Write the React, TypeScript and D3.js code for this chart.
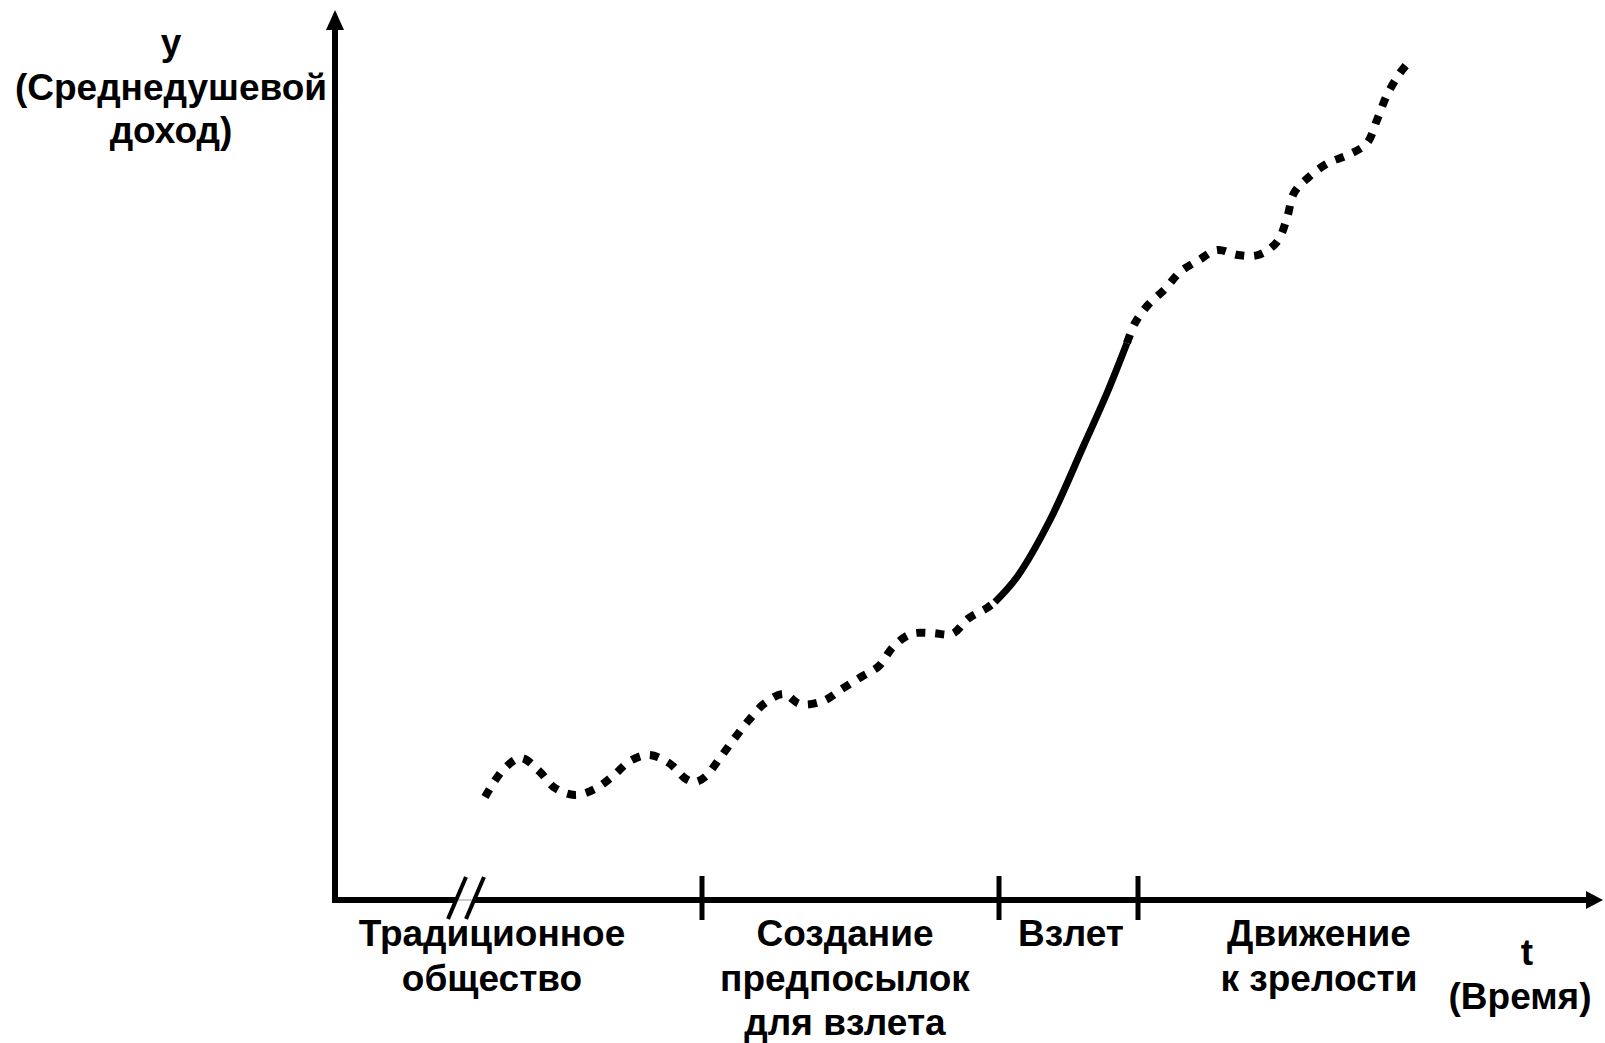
import React from "react"
import * as d3 from "d3"

// stage boundaries on the time axis
const stageTicks = [36.7, 66.4, 80.3]

// curve: traditional society + preconditions (dotted)
const earlyT = [15.0, 16.8, 18.6, 20.4, 22.0, 24.0, 26.0, 27.8, 29.5, 31.4, 33.4, 35.1, 36.0, 37.0, 38.5, 39.9, 41.4, 43.0, 44.9, 46.5, 48.8, 50.7, 52.6, 54.4, 55.8, 57.6, 59.7, 61.7, 63.4, 65.2, 66.0]
const earlyY = [10.3, 13.0, 14.2, 12.9, 11.2, 10.5, 11.1, 12.4, 13.9, 14.5, 13.7, 12.1, 11.8, 12.3, 14.2, 16.1, 18.0, 19.7, 20.6, 19.6, 19.9, 21.1, 22.3, 23.4, 25.3, 26.6, 26.7, 26.6, 28.2, 29.2, 29.8]

// take-off (solid)
const takeoffT = [66.0, 68.2, 71.5, 74.8, 77.2, 79.2]
const takeoffY = [29.8, 32.3, 38.0, 45.3, 50.7, 55.7]

// drive to maturity (dotted)
const lateT = [79.2, 80.0, 81.3, 83.1, 84.5, 86.4, 88.2, 90.3, 92.3, 94.2, 95.2, 95.9, 97.4, 99.3, 101.3, 103.2, 104.2, 105.2, 106.5, 107.3]
const lateY = [55.7, 57.7, 59.5, 61.2, 62.8, 64.0, 65.0, 64.5, 64.5, 65.8, 68.2, 70.7, 72.3, 73.7, 74.5, 75.7, 78.0, 80.5, 82.7, 83.7]

const stageLabels = [
	{ t: 15.7, lines: ["Традиционное", "общество"] },
	{ t: 51.0, lines: ["Создание", "предпосылок", "для взлета"] },
	{ t: 73.6, lines: ["Взлет"] },
	{ t: 98.4, lines: ["Движение", "к зрелости"] },
]

const yLabel = ["y", "(Среднедушевой", "доход)"]
const xLabel = ["t", "(Время)"]

const W = 1605
const H = 1043
const font = "'Liberation Sans', Arial, sans-serif"
const fs = 37

const App: React.FunctionComponent = () => {
	const xScale = d3.scaleLinear().domain([0, 127]).range([335, 1605])
	const yScale = d3.scaleLinear().domain([0, 89]).range([900, 10])

	const line = d3
		.line<[number, number]>()
		.x((d) => xScale(d[0]))
		.y((d) => yScale(d[1]))
		.curve(d3.curveCatmullRom)

	const zip = (a: number[], b: number[]) => a.map((v, i) => [v, b[i]] as [number, number])

	const x0 = xScale(0)
	const y0 = yScale(0)
	const xEnd = xScale(127)
	const yTop = yScale(89)
	const breakT = [12.0, 13.8]

	return (
		<div style={{ position: "absolute", left: 0, top: 0 }}>
			<svg width={W} height={H} style={{ display: "block", background: "#fff" }}>
				{/* y axis */}
				<line x1={x0} y1={y0 + 3} x2={x0} y2={yTop + 18} stroke="#000" strokeWidth={6} />
				<path d={`M${x0},${yTop} L${x0 - 9},${yTop + 20} L${x0 + 9},${yTop + 20} Z`} fill="#000" />

				{/* x axis with break */}
				<line x1={x0 - 3} y1={y0} x2={xScale(breakT[0])} y2={y0} stroke="#000" strokeWidth={6} />
				<line x1={xScale(breakT[0])} y1={y0} x2={xScale(breakT[1])} y2={y0} stroke="#999" strokeWidth={1} />
				<line x1={xScale(breakT[1])} y1={y0} x2={xEnd - 15} y2={y0} stroke="#000" strokeWidth={6} />
				<path d={`M${xEnd - 2},${y0} L${xEnd - 19},${y0 - 9} L${xEnd - 19},${y0 + 9} Z`} fill="#000" />
				{breakT.map((t, i) => (
					<line key={i} x1={xScale(t) + 11} y1={y0 - 23} x2={xScale(t) - 7} y2={y0 + 19} stroke="#000" strokeWidth={4} />
				))}

				{/* stage ticks */}
				{stageTicks.map((t, i) => (
					<line key={i} x1={xScale(t)} y1={y0 - 24} x2={xScale(t)} y2={y0 + 20} stroke="#000" strokeWidth={5} />
				))}

				{/* curve */}
				<path d={line(zip(earlyT, earlyY)) || ""} fill="none" stroke="#000" strokeWidth={8} strokeDasharray="9 10" />
				<path d={line(zip(takeoffT, takeoffY)) || ""} fill="none" stroke="#000" strokeWidth={7} />
				<path d={line(zip(lateT, lateY)) || ""} fill="none" stroke="#000" strokeWidth={8} strokeDasharray="9 10" />

				{/* stage labels */}
				{stageLabels.map((s, i) => (
					<text key={i} x={xScale(s.t)} textAnchor="middle" fontFamily={font} fontWeight="bold" fontSize={fs}>
						{s.lines.map((l, j) => (
							<tspan key={j} x={xScale(s.t)} y={946 + j * 44.5}>
								{l}
							</tspan>
						))}
					</text>
				))}

				{/* axis titles */}
				<text textAnchor="middle" fontFamily={font} fontWeight="bold" fontSize={fs}>
					{yLabel.map((l, j) => (
						<tspan key={j} x={171} y={[55, 100, 143][j]}>
							{l}
						</tspan>
					))}
				</text>
				<text textAnchor="middle" fontFamily={font} fontWeight="bold" fontSize={fs}>
					{xLabel.map((l, j) => (
						<tspan key={j} x={[1527, 1520][j]} y={[965, 1009][j]}>
							{l}
						</tspan>
					))}
				</text>
			</svg>
		</div>
	)
}

export default App
